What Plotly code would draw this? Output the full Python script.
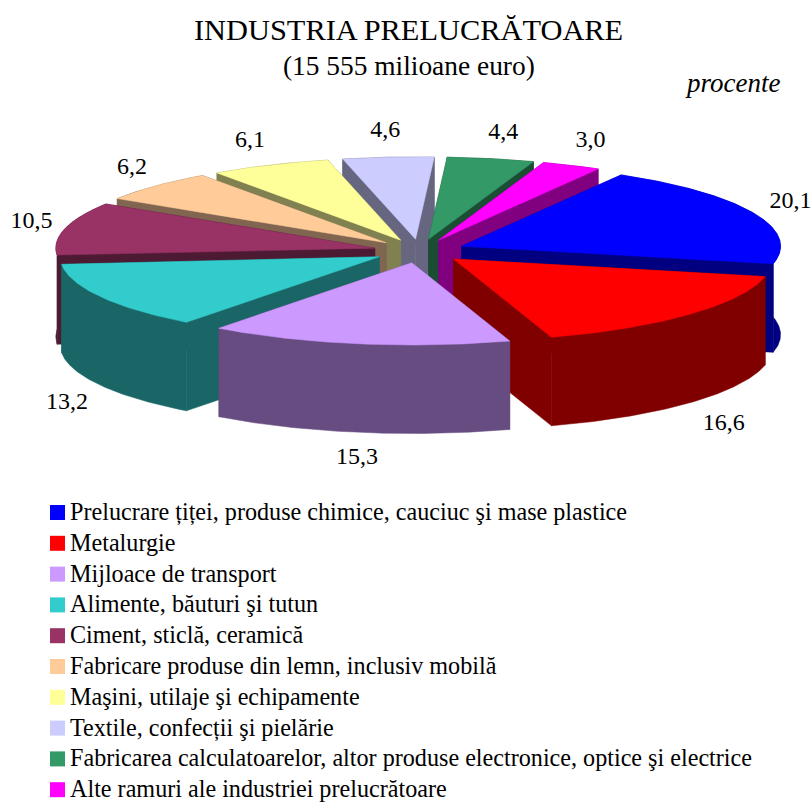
import numpy as np
import plotly.graph_objects as go

categories = [
    "Prelucrare țiței, produse chimice, cauciuc şi mase plastice",
    "Metalurgie",
    "Mijloace de transport",
    "Alimente, băuturi şi tutun",
    "Ciment, sticlă, ceramică",
    "Fabricare produse din lemn, inclusiv mobilă",
    "Maşini, utilaje şi echipamente",
    "Textile, confecții şi pielărie",
    "Fabricarea calculatoarelor, altor produse electronice, optice şi electrice",
    "Alte ramuri ale industriei prelucrătoare",
]
values = [20.1, 16.6, 15.3, 13.2, 10.5, 6.2, 6.1, 4.6, 4.4, 3.0]
top_colors = ["#0000FF", "#FF0000", "#CC99FF", "#33CCCC", "#993366",
              "#FFCC99", "#FFFF99", "#CCCCFF", "#339966", "#FF00FF"]
wall_colors = ["#000080", "#800000", "#664C80", "#1A6666", "#4D1A33",
               "#806650", "#808050", "#666680", "#1A4D33", "#800080"]

# projection of the 3-D pie
CX, CY, RADIUS, TILT, EXPLODE, WALL = 419.5, 251.0, 319.0, 0.258, 46.0, 88.5
START_ANGLE = 30.0
FONT = "Liberation Serif, Times New Roman, serif"
label_nudge_x = [0, 4, 5, 1, 5, 5, -4, 0, 4, 2]


def arc(a0, a1):
    t = np.radians(np.linspace(a0, a1, max(int(abs(a1 - a0)) * 2, 2)))
    return np.sin(t), -np.cos(t)


def poly(x, y, color):
    return go.Scatter(x=x, y=y, mode="lines", fill="toself", fillcolor=color,
                      line=dict(color=color, width=0.5), hoverinfo="skip",
                      showlegend=False)


shares = np.array(values) / sum(values) * 360.0
ends = START_ANGLE + np.cumsum(shares)
starts = ends - shares
mids = (starts + ends) / 2.0

fig = go.Figure()
order = np.argsort(-np.abs(((mids % 360.0)) - 180.0))
for i in order:
    m = np.radians(mids[i])
    ax = CX + EXPLODE * np.sin(m)
    ay = CY - EXPLODE * TILT * np.cos(m)
    sx, sy = arc(starts[i], ends[i])
    px = ax + RADIUS * sx
    py = ay + RADIUS * TILT * sy
    # radial side walls
    for ex, ey in ((px[0], py[0]), (px[-1], py[-1])):
        xs = [ax, ex, ex, ax, ax]
        ys = [ay, ey, ey + WALL, ay + WALL, ay]
        fig.add_trace(poly(xs, ys, wall_colors[i]))
    # outer rim
    low = py + WALL
    fig.add_trace(poly(np.r_[px, px[::-1], px[0]], np.r_[py, low[::-1], py[0]], wall_colors[i]))
    # top face
    fig.add_trace(poly(np.r_[ax, px, ax], np.r_[ay, py, ay], top_colors[i]))

# value labels
L = 405.0
lx, ly = [], []
for m, nudge in zip(np.radians(mids), label_nudge_x):
    c = np.cos(m)
    lx.append(420.0 + L * np.sin(m) + nudge)
    ly.append(250.0 - 0.27 * L * c + (100.0 if c < 0 else -10.0 * c))
labels = [f"{v:.1f}".replace(".", ",") for v in values]
fig.add_trace(go.Scatter(x=lx, y=ly, mode="text", text=labels, textposition="middle center",
                         textfont=dict(family=FONT, size=24, color="black"),
                         hoverinfo="skip", showlegend=False, cliponaxis=False))

# legend rows
rows = 512.5 + 30.8 * np.arange(len(categories))
fig.add_trace(go.Scatter(x=[57.5] * len(rows), y=rows, mode="markers",
                         marker=dict(symbol="square", size=15, color=top_colors),
                         hoverinfo="skip", showlegend=False))
fig.add_trace(go.Scatter(x=[70.0] * len(rows), y=rows + 1.5, mode="text", text=categories,
                         textposition="middle right",
                         textfont=dict(family=FONT, size=24.15, color="black"),
                         hoverinfo="skip", showlegend=False))

fig.update_layout(
    width=811, height=802, margin=dict(l=0, r=0, t=0, b=0),
    paper_bgcolor="white", plot_bgcolor="white",
    xaxis=dict(range=[0, 811], visible=False, fixedrange=True),
    yaxis=dict(range=[802, 0], visible=False, fixedrange=True),
    annotations=[
        dict(x=408, y=30, xref="x", yref="y", text="INDUSTRIA PRELUCRĂTOARE", showarrow=False,
             font=dict(family=FONT, size=30.4, color="black")),
        dict(x=409, y=65.5, xref="x", yref="y", text="(15 555 milioane euro)", showarrow=False,
             font=dict(family=FONT, size=27.4, color="black")),
        dict(x=732, y=83, xref="x", yref="y", text="<i>procente</i>", showarrow=False,
             font=dict(family=FONT, size=27, color="black")),
    ],
)
fig.write_html("out.html", config=dict(displayModeBar=False),
               post_script="document.body.style.margin='0';document.body.style.overflow='hidden';")
